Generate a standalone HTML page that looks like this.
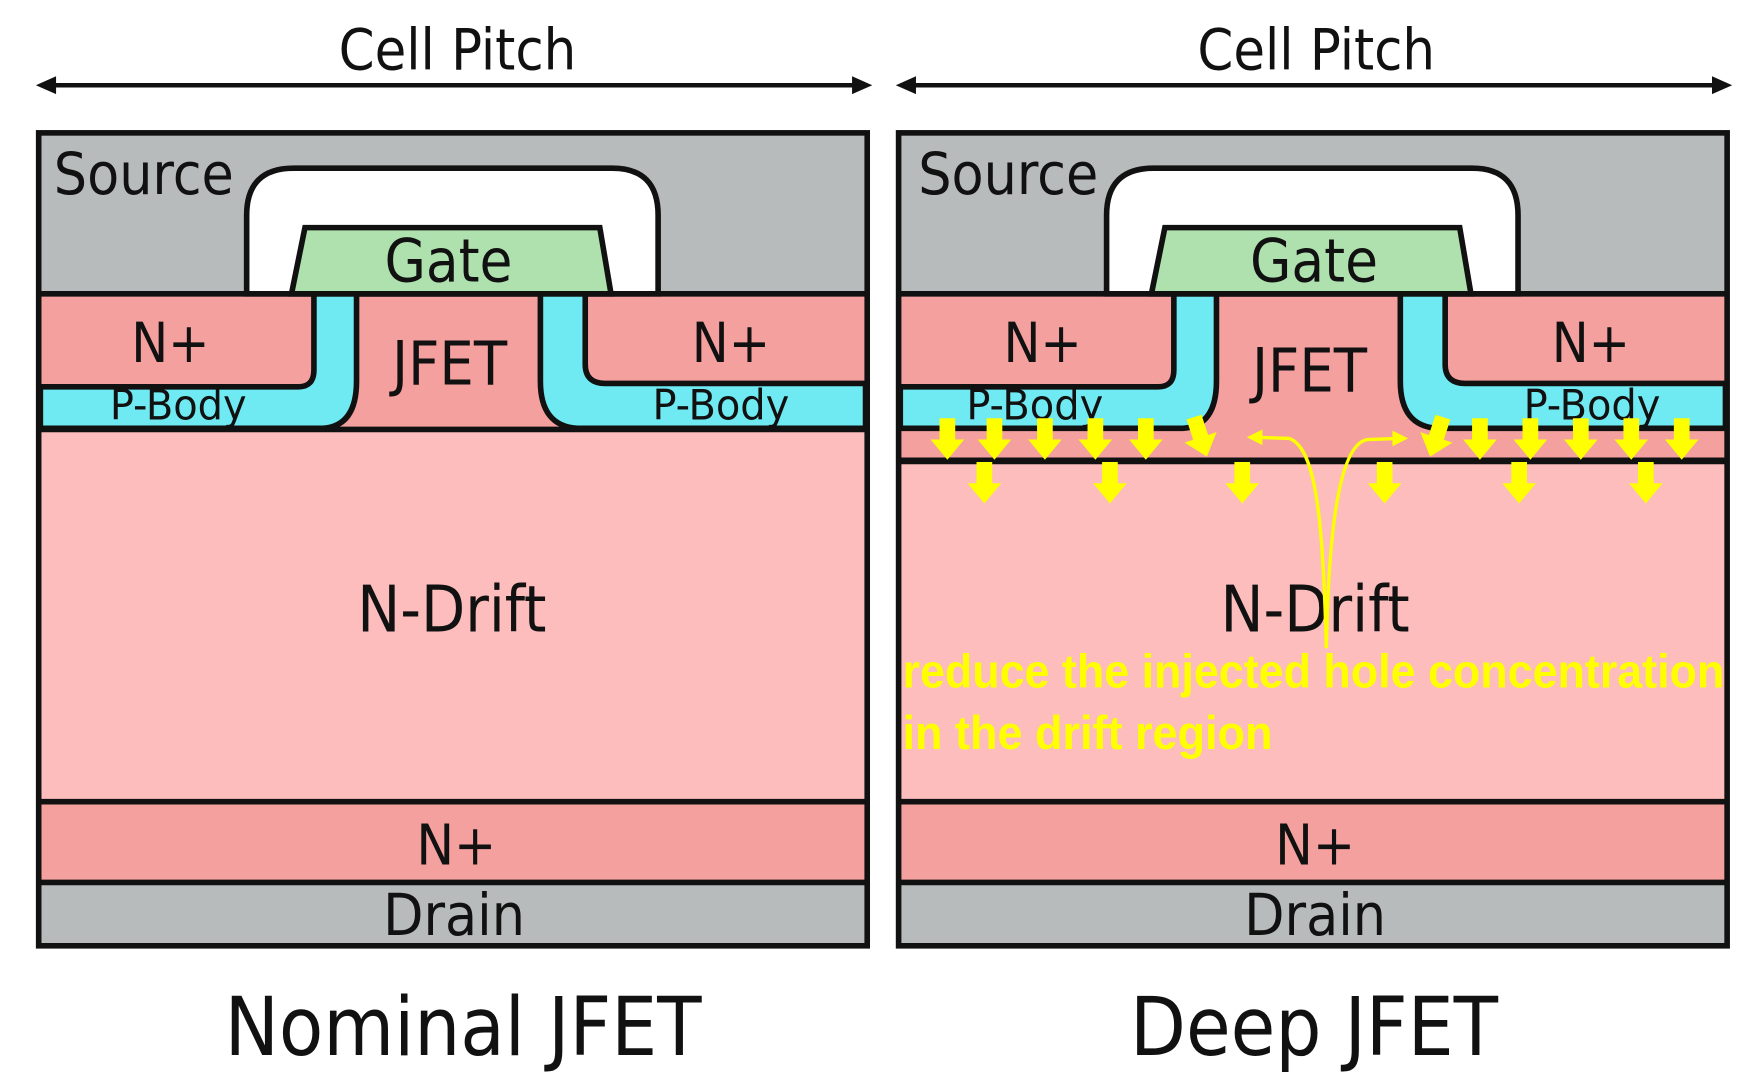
<!DOCTYPE html>
<html><head><meta charset="utf-8"><style>
html,body{margin:0;padding:0;background:#fff;}
svg{display:block;}
text{font-family:"DejaVu Sans Condensed","DejaVu Sans","Liberation Sans",sans-serif;fill:#111;}
</style></head><body>
<svg width="1749" height="1091" viewBox="0 0 1560 973" preserveAspectRatio="none" xmlns="http://www.w3.org/2000/svg">
<defs>
<path id="da" d="M-7,0 H7 V19 H15 L0,37 L-15,19 H-7 Z" fill="#ffff00"/>
</defs>
<g stroke="#111" stroke-width="4" fill="#111">
<line x1="42" y1="76" x2="768" y2="76"/>
<polygon points="32,76 50,68 50,84" stroke="none"/>
<polygon points="778,76 760,68 760,84" stroke="none"/>
<line x1="809" y1="76" x2="1535" y2="76"/>
<polygon points="799,76 817,68 817,84" stroke="none"/>
<polygon points="1545,76 1527,68 1527,84" stroke="none"/>
</g>
<text x="408" y="62" font-size="51" text-anchor="middle">Cell Pitch</text>
<text x="1174" y="62" font-size="51" text-anchor="middle">Cell Pitch</text>

<g>
<rect x="36" y="120" width="736" height="142" fill="#b8bbbc"/>
<rect x="36" y="262" width="736" height="121" fill="#f4a09f"/>
<rect x="36" y="383" width="736" height="332" fill="#fdbdbd"/>
<rect x="36" y="715" width="736" height="72" fill="#f4a09f"/>
<rect x="36" y="787" width="736" height="58" fill="#b8bbbc"/>
<path d="M220,262 V192 Q220,150 262,150 H546 Q587,150 587,192 V262 Z" fill="#fff" stroke="#111" stroke-width="5"/>
<polygon points="272,203 535,203 545,262 260,262" fill="#aee1ae" stroke="#111" stroke-width="5"/>
<path d="M36,345 H266 Q280,345 280,330 V262 H318 V340 Q318,380 288,382 H36 Z" fill="#6feaf2" stroke="#111" stroke-width="5"/>
<path d="M482,262 H522 V325 Q522,342 540,342 H772 V382 H515 Q482,380 482,340 Z" fill="#6feaf2" stroke="#111" stroke-width="5"/>
<g stroke="#111" stroke-width="5">
<line x1="36" y1="262" x2="772" y2="262"/>
<line x1="36" y1="383" x2="772" y2="383"/>
<line x1="36" y1="715" x2="772" y2="715"/>
<line x1="36" y1="787" x2="772" y2="787"/>
</g>
<rect x="34.5" y="118.5" width="739" height="725" fill="none" stroke="#111" stroke-width="5"/>
<text x="48" y="173" font-size="52">Source</text>
<text x="400" y="251" font-size="53" text-anchor="middle">Gate</text>
<text x="152" y="323" font-size="49" text-anchor="middle">N+</text>
<text x="652" y="323" font-size="49" text-anchor="middle">N+</text>
<text x="401" y="343" font-size="54" text-anchor="middle">JFET</text>
<text x="98" y="374" font-size="37" textLength="122" lengthAdjust="spacingAndGlyphs">P-Body</text>
<text x="582" y="374" font-size="37" textLength="122" lengthAdjust="spacingAndGlyphs">P-Body</text>
<text x="403" y="563" font-size="57" text-anchor="middle">N-Drift</text>
<text x="407" y="771" font-size="50" text-anchor="middle">N+</text>
<text x="405" y="834" font-size="52" text-anchor="middle">Drain</text>
</g>

<g transform="translate(767,0)">
<rect x="36" y="120" width="736" height="142" fill="#b8bbbc"/>
<rect x="36" y="262" width="736" height="150" fill="#f4a09f"/>
<rect x="36" y="412" width="736" height="303" fill="#fdbdbd"/>
<rect x="36" y="715" width="736" height="72" fill="#f4a09f"/>
<rect x="36" y="787" width="736" height="58" fill="#b8bbbc"/>
<path d="M220,262 V192 Q220,150 262,150 H546 Q587,150 587,192 V262 Z" fill="#fff" stroke="#111" stroke-width="5"/>
<polygon points="272,203 535,203 545,262 260,262" fill="#aee1ae" stroke="#111" stroke-width="5"/>
<path d="M36,345 H266 Q280,345 280,330 V262 H318 V340 Q318,380 288,382 H36 Z" fill="#6feaf2" stroke="#111" stroke-width="5"/>
<path d="M482,262 H522 V325 Q522,342 540,342 H772 V382 H515 Q482,380 482,340 Z" fill="#6feaf2" stroke="#111" stroke-width="5"/>
<g stroke="#111" stroke-width="5">
<line x1="36" y1="262" x2="772" y2="262"/>
<line x1="36" y1="411" x2="772" y2="411" stroke-width="6"/>
<line x1="36" y1="715" x2="772" y2="715"/>
<line x1="36" y1="787" x2="772" y2="787"/>
</g>
<rect x="34.5" y="118.5" width="739" height="725" fill="none" stroke="#111" stroke-width="5"/>
<text x="52" y="173" font-size="52">Source</text>
<text x="405" y="251" font-size="53" text-anchor="middle">Gate</text>
<text x="163" y="323" font-size="49" text-anchor="middle">N+</text>
<text x="652" y="323" font-size="49" text-anchor="middle">N+</text>
<text x="401" y="349" font-size="54" text-anchor="middle">JFET</text>
<text x="95" y="374" font-size="37" textLength="122" lengthAdjust="spacingAndGlyphs">P-Body</text>
<text x="592" y="374" font-size="37" textLength="122" lengthAdjust="spacingAndGlyphs">P-Body</text>
<text x="406" y="563" font-size="57" text-anchor="middle">N-Drift</text>
<text x="406" y="771" font-size="50" text-anchor="middle">N+</text>
<text x="406" y="834" font-size="52" text-anchor="middle">Drain</text>
</g>

<g>
<use href="#da" x="845" y="373"/>
<use href="#da" x="887" y="373"/>
<use href="#da" x="932" y="373"/>
<use href="#da" x="977" y="373"/>
<use href="#da" x="1022" y="373"/>
<use href="#da" transform="translate(1065,372) rotate(-18)"/>
<use href="#da" transform="translate(1287,372) rotate(18)"/>
<use href="#da" x="1320" y="373"/>
<use href="#da" x="1365" y="373"/>
<use href="#da" x="1410" y="373"/>
<use href="#da" x="1455" y="373"/>
<use href="#da" x="1500" y="373"/>
<use href="#da" x="878" y="412"/>
<use href="#da" x="990" y="412"/>
<use href="#da" x="1108" y="412"/>
<use href="#da" x="1235" y="412"/>
<use href="#da" x="1355" y="412"/>
<use href="#da" x="1468" y="412"/>
</g>
<g stroke="#ffff00" stroke-width="3" fill="none">
<path d="M1183,578 C1180,470 1175,400 1150,391 L1120,390"/>
<path d="M1183,578 C1185,470 1195,395 1220,392 L1248,391"/>
</g>
<polygon points="1112,390 1126,383 1126,397" fill="#ffff00"/>
<polygon points="1256,391 1242,384 1242,398" fill="#ffff00"/>
<text x="805" y="613" font-size="42" font-weight="bold" textLength="733" lengthAdjust="spacingAndGlyphs" style="fill:#ffff00;font-family:'Liberation Sans',sans-serif;">reduce the injected hole concentration</text>
<text x="805" y="668" font-size="42" font-weight="bold" textLength="330" lengthAdjust="spacingAndGlyphs" style="fill:#ffff00;font-family:'Liberation Sans',sans-serif;">in the drift region</text>

<text x="413" y="941" font-size="72" text-anchor="middle">Nominal JFET</text>
<text x="1172" y="941" font-size="72" text-anchor="middle">Deep JFET</text>
</svg>
</body></html>
